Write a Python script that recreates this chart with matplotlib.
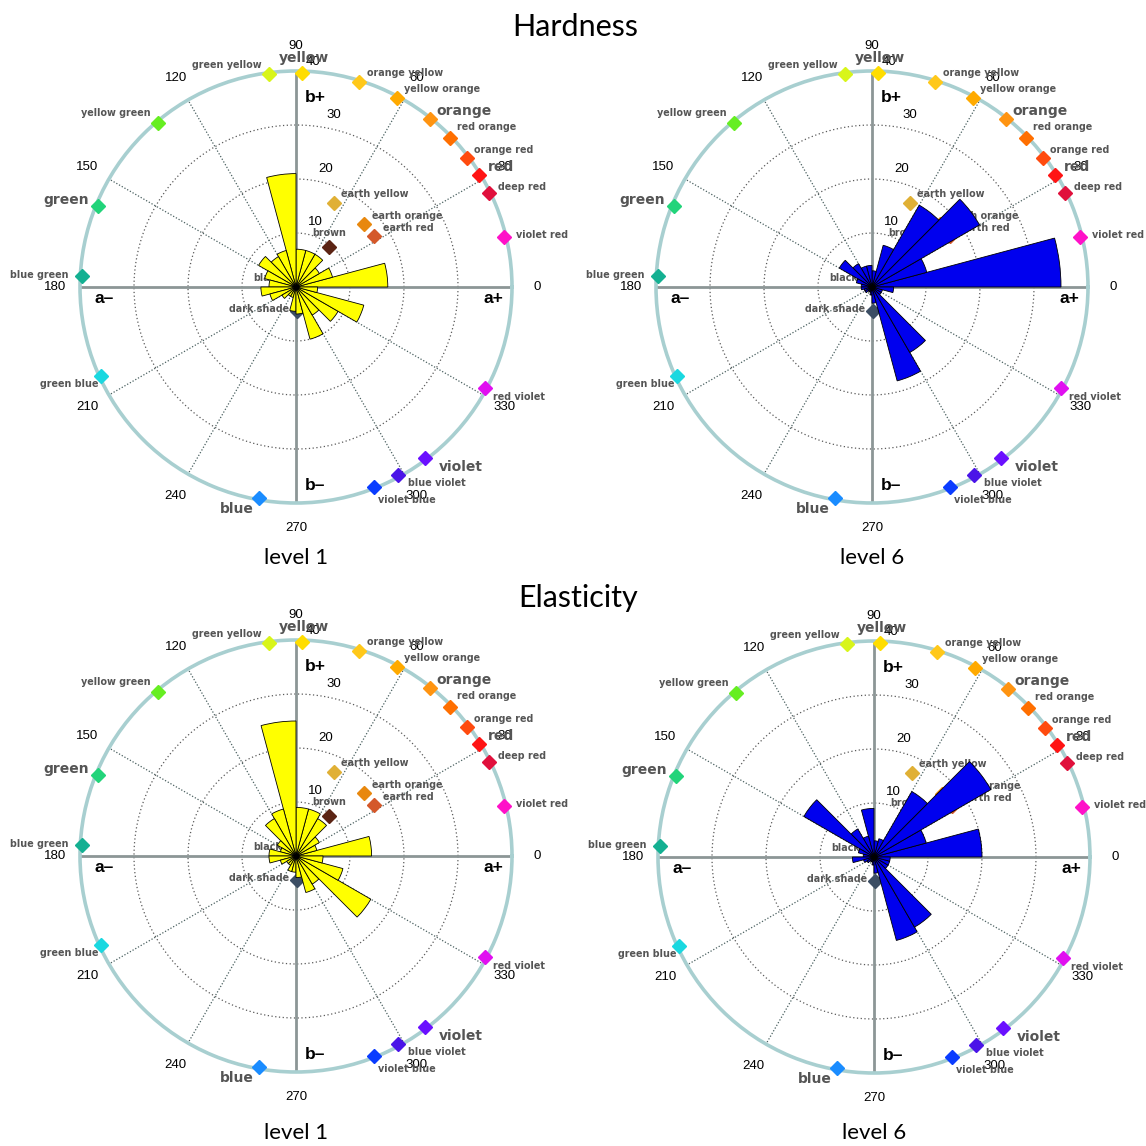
import numpy as np
import matplotlib
matplotlib.use("Agg")
import matplotlib.pyplot as plt

# ---------------- data ----------------
bin_edges_deg = list(range(0, 360, 15))  # 24 bins, 15 degrees each

hardness_level1 = [17, 7, 5, 7, 7, 7, 21, 7, 6.5, 8, 6, 5,
                   6.5, 5, 3, 2, 2, 4.5, 5, 10, 6, 9, 13, 4]
hardness_level6 = [35, 10.5, 23, 17.5, 8, 3, 4, 4, 5, 7, 3, 2,
                   2, 1.5, 1.5, 1, 1, 1.5, 3, 18, 14, 2, 2, 4]
elasticity_level1 = [14, 4, 5, 8, 9, 9, 25, 9, 8, 4, 3, 5,
                     5, 3, 2, 2, 3, 3, 4, 7, 6, 16, 9, 5]
elasticity_level6 = [20, 10, 25, 14, 3.5, 3, 9, 4, 6, 15, 3, 2,
                     4, 2, 1.5, 1, 1, 1.5, 3, 16, 15, 3, 3, 3]

color_names = ["yellow", "orange yellow", "yellow orange", "orange", "red orange",
               "orange red", "red", "deep red", "violet red", "earth yellow",
               "earth orange", "earth red", "brown", "dark shade", "black",
               "green yellow", "yellow green", "green", "blue green", "green blue",
               "blue", "violet blue", "blue violet", "violet", "red violet"]
color_angles = [88.4, 72.8, 61.8, 51.4, 44.0, 36.9, 31.5, 26.0, 13.5, 65.7,
                43.0, 33.0, 50.5, 272.0, 135.0,
                97.3, 129.9, 157.7, 177.0, 204.6, 260.0, 291.3, 298.5, 307.0, 332.0]
color_radii = [39.7, 39.7, 39.7, 39.7, 39.7, 39.7, 39.7, 39.7, 39.7, 17.0,
               17.2, 17.2, 9.6, 4.4, 2.0,
               39.7, 39.7, 39.7, 39.7, 39.7, 39.7, 39.7, 39.7, 39.7, 39.7]
color_hex = ["#ffdd00", "#ffc81a", "#ffaa00", "#ff9411", "#ff6f00",
             "#ff4b0f", "#ff1414", "#e0103c", "#ff11c8", "#e0b035",
             "#e8880e", "#d4582a", "#5c2414", "#3c4e64", "#000000",
             "#d8f51a", "#66ee22", "#22d47a", "#14b092", "#1ad8e0",
             "#1a8cff", "#0a3cff", "#4a14e8", "#6a10ff", "#e010f0"]

angle_ticks = [0, 30, 60, 90, 120, 150, 180, 210, 240, 270, 300, 330]
radial_ticks = [10, 20, 30, 40]

panels = [("Hardness", "level 1", hardness_level1, "#ffff00"),
          ("Hardness", "level 6", hardness_level6, "#0000ee"),
          ("Elasticity", "level 1", elasticity_level1, "#ffff00"),
          ("Elasticity", "level 6", elasticity_level6, "#0000ee")]

# ---------------- style / layout ----------------
# label style: (big?, ha, dx px, dy px (down positive))
label_style = {
    "yellow": (True, "center", 2, -15), "orange yellow": (False, "left", 8, -9),
    "yellow orange": (False, "left", 7, -9), "orange": (True, "left", 7, -8),
    "red orange": (False, "left", 7, -11), "orange red": (False, "left", 7, -8),
    "red": (True, "left", 9, -8), "deep red": (False, "left", 9, -6),
    "violet red": (False, "left", 12, -2), "earth yellow": (False, "left", 7, -9),
    "earth orange": (False, "left", 8, -8), "earth red": (False, "left", 9, -8),
    "brown": (False, "center", 0, -14), "dark shade": (False, "right", -8, -2),
    "black": (False, "right", -6, -1), "green yellow": (False, "right", -7, -9),
    "yellow green": (False, "right", -8, -10), "green": (True, "right", -9, -6),
    "blue green": (False, "right", -13, -1), "green blue": (False, "right", -3, 8),
    "blue": (True, "right", -5, 11), "violet blue": (False, "left", 4, 13),
    "blue violet": (False, "left", 10, 8), "violet": (True, "left", 14, 9),
    "red violet": (False, "left", 8, 9),
}

W = H = 1146
fig = plt.figure(figsize=(W / 100, H / 100), dpi=100)
fig.patch.set_facecolor("white")

centers = [(296, 287), (872, 287), (296, 856), (874, 857)]
R_PX = 216
RMAX = 40

label_gray = "#555555"

for (title, level, values, barcolor), (cx, cy) in zip(panels, centers):
    w = 2 * R_PX / W
    h = 2 * R_PX / H
    ax = fig.add_axes([cx / W - w / 2, 1 - cy / H - h / 2, w, h], projection="polar")
    ax.set_ylim(0, RMAX)
    ax.set_xticks([])
    ax.set_yticks([])
    ax.grid(False)
    ax.spines["polar"].set_color("#a8cfd0")
    ax.spines["polar"].set_linewidth(2.6)
    ax.set_facecolor("white")

    # dotted circles
    th = np.linspace(0, 2 * np.pi, 400)
    for rr in radial_ticks[:-1]:
        ax.plot(th, np.full_like(th, rr), ls=(0, (1, 2)), color="#5a5a5a", lw=0.9, zorder=1)
    # dotted spokes
    for a in angle_ticks:
        if a % 90 != 0:
            ax.plot([np.deg2rad(a)] * 2, [0, RMAX], ls=(0, (1, 1.5)), color="#4a6060",
                    lw=0.9, zorder=1)
    # solid axes
    for a in (0, 90, 180, 270):
        ax.plot([np.deg2rad(a)] * 2, [0, RMAX], color="#8c9696", lw=2.0, zorder=1)

    # angle tick labels
    for a in angle_ticks:
        ax.text(np.deg2rad(a), 44.6, str(a), ha="center", va="center", fontsize=9.5,
                family="Liberation Sans", color="black", clip_on=False)
    # radial tick labels
    for rr, (ta, tr) in zip(radial_ticks, [(73, 12.5), (75.9, 22.5), (77.6, 32.6), (85.7, 41.8)]):
        ax.text(np.deg2rad(ta), tr, str(rr), ha="center", va="center", fontsize=9.5,
                family="Liberation Sans", color="black", clip_on=False)

    # a/b axis labels
    for txt, ta, tr in [("a+", -3.2, 36.7), ("a–", 183.3, 35.6), ("b+", 84.3, 35.2), ("b–", 275.5, 37.0)]:
        ax.text(np.deg2rad(ta), tr, txt, ha="center", va="center", fontsize=12.5,
                fontweight="bold", family="Liberation Sans", color="black", clip_on=False)

    # colour-name markers and labels
    for name, ang, rad, col in zip(color_names, color_angles, color_radii, color_hex):
        big, ha, dx, dy = label_style[name]
        ax.plot(np.deg2rad(ang), rad, marker="D", ms=7.3, color=col, mec=col,
                zorder=3, clip_on=False)
        ax.annotate(name, (np.deg2rad(ang), rad), xytext=(dx, -dy),
                    textcoords="offset pixels", ha=ha, va="center",
                    fontsize=10 if big else 6.9, fontweight="bold",
                    family="DejaVu Sans", color=label_gray, zorder=3,
                    annotation_clip=False)

    # rose bars
    theta = np.deg2rad(bin_edges_deg)
    ax.bar(theta, values, width=np.deg2rad(15), align="edge", color=barcolor,
           edgecolor="black", linewidth=0.6, zorder=5)
    ax.plot(0, 0, "o", color="black", ms=3, zorder=6)

    fig.text(cx / W, 1 - 558 / H if cy < 500 else 1 - 1133 / H, level,
             ha="center", va="center", fontsize=16, family="Lato")

fig.text(575 / W, 1 - 27 / H, "Hardness", ha="center", va="center", fontsize=22, family="Lato")
fig.text(578 / W, 1 - 598 / H, "Elasticity", ha="center", va="center", fontsize=22, family="Lato")

fig.savefig("out.png", dpi=100, facecolor="white")
